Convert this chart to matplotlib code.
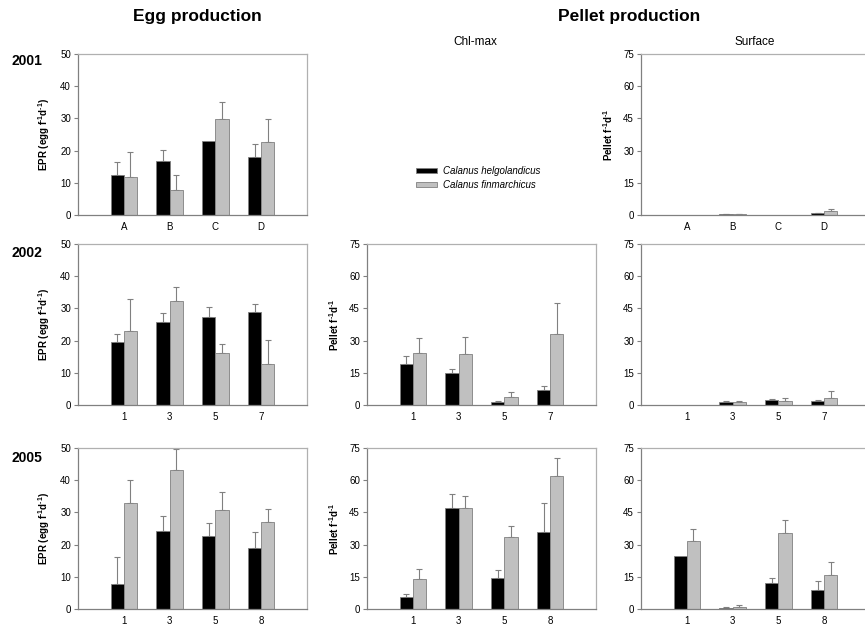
import matplotlib
matplotlib.use("Agg")
import matplotlib.pyplot as plt
from matplotlib.patches import Patch
import numpy as np

plt.rcParams['font.family'] = ['Liberation Sans', 'DejaVu Sans']
plt.rcParams['mathtext.fontset'] = 'custom'
plt.rcParams['mathtext.rm'] = 'Liberation Sans:bold'
plt.rcParams['mathtext.it'] = 'Liberation Sans:bold:italic'
plt.rcParams['mathtext.bf'] = 'Liberation Sans:bold'

# ---- data ----
cats_2001 = ["A", "B", "C", "D"]
cats_2002 = ["1", "3", "5", "7"]
cats_2005 = ["1", "3", "5", "8"]

# Egg production (EPR)
epr01_hel = [12.5, 16.9, 22.9, 17.9]
epr01_hel_err = [4.0, 3.2, 0.0, 4.0]
epr01_fin = [11.8, 7.8, 29.7, 22.6]
epr01_fin_err = [7.8, 4.5, 5.4, 7.3]

epr02_hel = [19.7, 25.9, 27.4, 29.0]
epr02_hel_err = [2.2, 2.6, 2.9, 2.4]
epr02_fin = [23.0, 32.3, 16.0, 12.6]
epr02_fin_err = [9.8, 4.2, 2.9, 7.6]

epr05_hel = [7.9, 24.2, 22.7, 18.9]
epr05_hel_err = [8.1, 4.6, 3.9, 5.0]
epr05_fin = [32.9, 43.2, 30.6, 27.1]
epr05_fin_err = [7.1, 6.5, 5.7, 3.9]

# Pellet production, Chl-max
chl02_hel = [19.3, 14.8, 1.4, 6.8]
chl02_hel_err = [3.4, 2.1, 0.3, 2.1]
chl02_fin = [24.1, 23.8, 3.9, 33.2]
chl02_fin_err = [7.0, 7.7, 2.0, 14.3]

chl05_hel = [5.4, 47.0, 14.6, 35.9]
chl05_hel_err = [1.6, 6.6, 3.6, 13.6]
chl05_fin = [14.1, 47.0, 33.7, 61.8]
chl05_fin_err = [4.4, 5.6, 5.0, 8.5]

# Pellet production, Surface
sur01_hel = [0.0, 0.3, 0.0, 0.8]
sur01_hel_err = [0.0, 0.1, 0.0, 0.3]
sur01_fin = [0.0, 0.3, 0.0, 1.9]
sur01_fin_err = [0.0, 0.1, 0.0, 0.7]

sur02_hel = [0.2, 1.2, 2.2, 1.9]
sur02_hel_err = [0.0, 0.5, 0.8, 0.4]
sur02_fin = [0.0, 1.4, 1.9, 3.1]
sur02_fin_err = [0.0, 0.5, 1.2, 3.3]

sur05_hel = [24.7, 0.5, 12.0, 9.0]
sur05_hel_err = [0.0, 0.3, 2.4, 3.9]
sur05_fin = [31.7, 0.9, 35.2, 16.0]
sur05_fin_err = [5.6, 1.0, 6.4, 5.9]

species = ["Calanus helgolandicus", "Calanus finmarchicus"]
years = ["2001", "2002", "2005"]

BLACK = "#000000"
GRAY = "#c0c0c0"
EDGE = "#808080"

W, H = 865, 627
fig = plt.figure(figsize=(W / 100, H / 100), dpi=100)

col_left = [78, 367, 641]
ax_w = 229
rows = [(54, 215), (244, 405), (448, 609)]


def make_ax(col, row):
    l = col_left[col]
    t, b = rows[row]
    return fig.add_axes([l / W, 1 - b / H, ax_w / W, (b - t) / H])


def draw(ax, cats, hel, hel_err, fin, fin_err, ymax, step, ylabel=None):
    x = np.arange(len(cats))
    bw = 0.29
    ax.bar(x - bw / 2, hel, bw, color=BLACK, edgecolor=EDGE, linewidth=0.6, zorder=2)
    ax.bar(x + bw / 2, fin, bw, color=GRAY, edgecolor=EDGE, linewidth=0.6, zorder=2)
    for xs, v, e in ((x - bw / 2, hel, hel_err), (x + bw / 2, fin, fin_err)):
        v = np.array(v)
        e = np.array(e)
        m = e > 0
        ax.errorbar(xs[m], v[m], yerr=[np.zeros(m.sum()), e[m]], fmt='none',
                    ecolor=EDGE, elinewidth=0.8, capsize=2.2, capthick=0.8, zorder=1)
    ax.set_xlim(-1, 4)
    ax.set_ylim(0, ymax)
    ax.set_yticks(np.arange(0, ymax + 0.1, step))
    ax.set_xticks(x)
    ax.set_xticklabels(cats)
    ax.tick_params(axis='x', length=0, pad=5, labelsize=7, colors='#000000')
    ax.tick_params(axis='y', length=3, width=0.8, color=EDGE, pad=2, labelsize=7)
    ax.spines['left'].set_color(EDGE)
    ax.spines['bottom'].set_color(EDGE)
    ax.spines['top'].set_color('#b0b0b0')
    ax.spines['right'].set_color('#b0b0b0')
    for s in ax.spines.values():
        s.set_linewidth(0.9)
    if ylabel:
        ax.set_ylabel(ylabel, fontsize=7, fontweight='bold', labelpad=6)


epr_label = r"EPR (egg f$^{\text{-1}}$d$^{\text{-1}}$)"
pel_label = r"Pellet f$^{\text{-1}}$d$^{\text{-1}}$"

ax = make_ax(0, 0)
draw(ax, cats_2001, epr01_hel, epr01_hel_err, epr01_fin, epr01_fin_err, 50, 10, epr_label)
ax = make_ax(0, 1)
draw(ax, cats_2002, epr02_hel, epr02_hel_err, epr02_fin, epr02_fin_err, 50, 10, epr_label)
ax = make_ax(0, 2)
draw(ax, cats_2005, epr05_hel, epr05_hel_err, epr05_fin, epr05_fin_err, 50, 10, epr_label)

ax = make_ax(1, 1)
draw(ax, cats_2002, chl02_hel, chl02_hel_err, chl02_fin, chl02_fin_err, 75, 15, pel_label)
ax = make_ax(1, 2)
draw(ax, cats_2005, chl05_hel, chl05_hel_err, chl05_fin, chl05_fin_err, 75, 15, pel_label)

ax = make_ax(2, 0)
draw(ax, cats_2001, sur01_hel, sur01_hel_err, sur01_fin, sur01_fin_err, 75, 15, pel_label)
ax = make_ax(2, 1)
draw(ax, cats_2002, sur02_hel, sur02_hel_err, sur02_fin, sur02_fin_err, 75, 15)
ax = make_ax(2, 2)
draw(ax, cats_2005, sur05_hel, sur05_hel_err, sur05_fin, sur05_fin_err, 75, 15)

# Titles
fig.text(197 / W, 1 - 16 / H, "Egg production", ha='center', va='center',
         fontsize=12.5, fontweight='bold')
fig.text(629 / W, 1 - 16 / H, "Pellet production", ha='center', va='center',
         fontsize=12.5, fontweight='bold')
fig.text(475 / W, 1 - 42 / H, "Chl-max", ha='center', va='center', fontsize=8.5)
fig.text(755 / W, 1 - 42 / H, "Surface", ha='center', va='center', fontsize=8.5)

for yr, yp in zip(years, [61, 253, 458]):
    fig.text(27 / W, 1 - yp / H, yr, ha='center', va='center', fontsize=10, fontweight='bold')

handles = [Patch(facecolor=BLACK, edgecolor=EDGE, linewidth=0.6),
           Patch(facecolor=GRAY, edgecolor=EDGE, linewidth=0.6)]
leg = fig.legend(handles, species, loc='center left', bbox_to_anchor=(411 / W, 1 - 178 / H),
                 frameon=False, fontsize=7, handlelength=2.2, handleheight=0.45,
                 labelspacing=0.35, handletextpad=0.6, borderpad=0)
for t in leg.get_texts():
    t.set_fontstyle('italic')

fig.savefig("out.png", dpi=100)
